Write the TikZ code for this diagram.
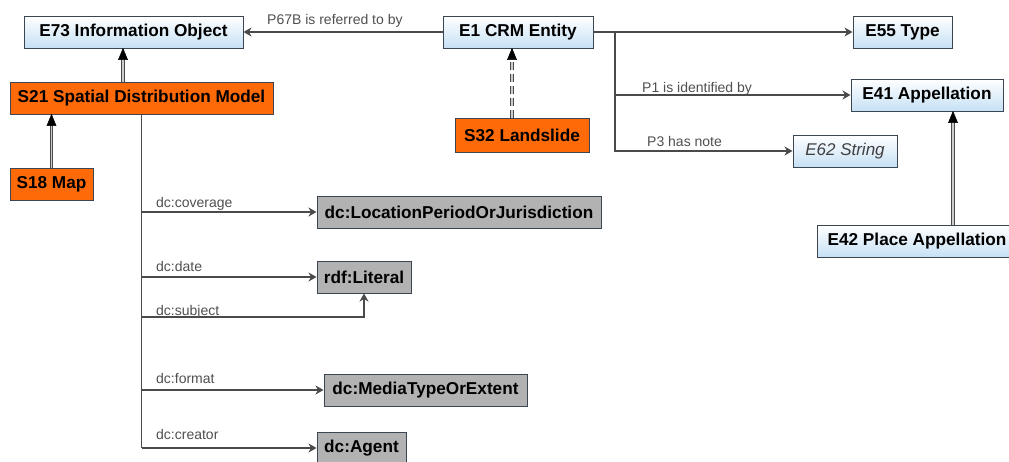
\documentclass[tikz,border=0pt]{standalone}
\usepackage{fontspec}
\setmainfont{Liberation Sans}
\usetikzlibrary{arrows.meta,calc}
\definecolor{bord}{HTML}{3C4652}
\definecolor{crmblue}{HTML}{C6E0F5}
\definecolor{orangeC}{HTML}{FF6A08}
\definecolor{greyC}{HTML}{B2B2B2}
\definecolor{linegrey}{HTML}{4A4A4A}
\definecolor{lblgrey}{HTML}{505050}
\tikzset{
  box/.style={draw=bord, line width=1pt, minimum height=32pt, inner sep=0pt,
    font=\fontsize{17.2}{19}\selectfont\bfseries, text=black},
  crm/.style={box, top color=white, bottom color=crmblue},
  ext/.style={box, fill=orangeC},
  dcbox/.style={box, fill=greyC},
  lbl/.style={font=\fontsize{14}{15}\selectfont, text=lblgrey, inner sep=0pt, anchor=base west},
  plain/.style={draw=linegrey, line width=1.2pt},
  assoc/.style={plain, -{Stealth[length=8pt,width=9pt,inset=2.5pt]}},
  inh/.style={draw=linegrey, line width=1pt, double=white!80!black, double distance=1.4pt},
  inhd/.style={inh, dash pattern=on 8pt off 4pt},
  inhtip/.style={fill=black, draw=black, line width=0.5pt, line join=miter},
}
\begin{document}
\begin{tikzpicture}[x=1pt,y=-1pt]
\useasboundingbox[fill=white] (0,0) rectangle (1009,461);
% nodes
\node[crm, minimum width=219pt] (E73) at (133.5,32) {E73 Information Object};
\node[crm, minimum width=150pt] (E1) at (518,32) {E1 CRM Entity};
\node[crm, minimum width=99pt] (E55) at (902.5,32) {E55 Type};
\node[crm, minimum width=152pt] (E41) at (927,95) {E41 Appellation};
\node[crm, minimum width=104pt, font=\fontsize{17}{18}\selectfont\itshape, text=black!75] (E62) at (845,151) {E62 String};
\node[crm, minimum width=200pt] (E42) at (917,241) {E42 Place Appellation};
\node[ext, minimum width=263pt] (S21) at (141.5,98) {S21 Spatial Distribution Model};
\node[ext, minimum width=83pt] (S18) at (51.5,184) {S18 Map};
\node[ext, minimum width=134pt, minimum height=34pt] (S32) at (522,135) {S32 Landslide};
\node[dcbox, minimum width=284pt] (Loc) at (459,212) {dc:LocationPeriodOrJurisdiction};
\node[dcbox, minimum width=94pt] (Lit) at (364,277) {rdf:Literal};
\node[dcbox, minimum width=203pt] (Med) at (425.5,390) {dc:MediaTypeOrExtent};
\node[dcbox, minimum width=89pt] (Agt) at (361.5,448) {dc:Agent};
% inheritance
\coordinate (t1) at ([xshift=-18.5pt]S21.north |- E73.south);
\draw[inh] ([xshift=-18.5pt]S21.north) -- ([yshift=-9pt]t1);
\filldraw[inhtip] (t1) -- ++(-4.5,11) -- ++(9,0) -- cycle;
\coordinate (t2) at (S18.north |- S21.south);
\draw[inh] (S18.north) -- ([yshift=-9pt]t2);
\filldraw[inhtip] (t2) -- ++(-4.5,11) -- ++(9,0) -- cycle;
\coordinate (t3) at ([xshift=-10pt]S32.north |- E1.south);
\draw[inhd] ([xshift=-10pt]S32.north) -- ([yshift=-9pt]t3);
\filldraw[inhtip] (t3) -- ++(-4.5,11) -- ++(9,0) -- cycle;
\coordinate (t4) at ([xshift=36pt]E42.north |- E41.south);
\draw[inh] ([xshift=36pt]E42.north) -- ([yshift=-9pt]t4);
\filldraw[inhtip] (t4) -- ++(-4.5,11) -- ++(9,0) -- cycle;
% E1 relations
\draw[assoc] (E1.west) -- (E73.east);
\node[lbl] (lP67) at (267,24) {P67B is referred to by};
\coordinate (br) at (615,32);
\draw[assoc] (E1.east) -- (E55.west);
\draw[assoc] (br) |- (E41.west);
\draw[assoc] (br) |- (E62.west);
\node[lbl] (lP1) at (642,92) {P1 is identified by};
\node[lbl] (lP3) at (647,146) {P3 has note};
% S21 relations
\draw[plain] (S21.south) -- (S21.south |- Agt.west);
\draw[assoc] (S21.south |- Loc.west) -- (Loc.west);
\draw[assoc] (S21.south |- Lit.west) -- (Lit.west);
\coordinate (subj) at (141.5,317);
\draw[assoc] (subj) -| (Lit.south);
\draw[assoc] (S21.south |- Med.west) -- (Med.west);
\draw[assoc] (S21.south |- Agt.west) -- (Agt.west);
\node[lbl] (lcov) at (156,207) {dc:coverage};
\node[lbl] (ldate) at (156,271) {dc:date};
\node[lbl] (lsubj) at (156,315) {dc:subject};
\node[lbl] (lfmt) at (156,383) {dc:format};
\node[lbl] (lcre) at (156,439) {dc:creator};
\end{tikzpicture}
\end{document}
